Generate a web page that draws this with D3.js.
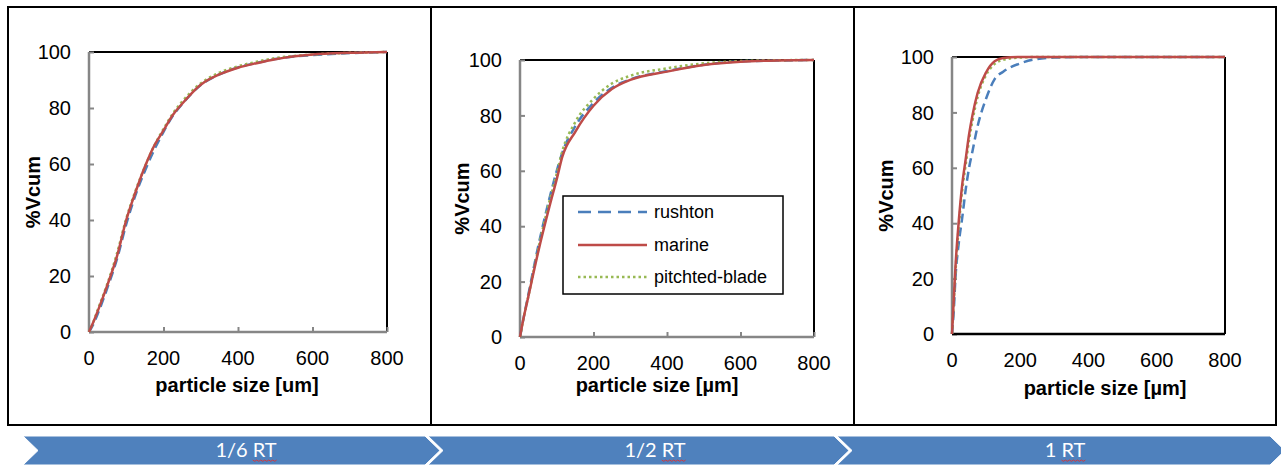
<!DOCTYPE html>
<html>
<head>
<meta charset="utf-8">
<script src="https://cdn.jsdelivr.net/npm/d3@7"></script>
<style>
  html, body { margin: 0; padding: 0; background: #fff; }
  svg { display: block; }
</style>
</head>
<body>
<svg id="chart" width="1281" height="466"></svg>
<script>
// ---------- DATA ----------
const seriesNames = ["rushton", "marine", "pitchted-blade"];
const stageLabels = ["1/6 RT", "1/2 RT", "1 RT"];
const xTitles = ["particle size [um]", "particle size [µm]", "particle size [µm]"];
const yTitle = "%Vcum";
const xTicks = [0, 200, 400, 600, 800];
const yTicks = [0, 20, 40, 60, 80, 100];

// Panel 1 (1/6 RT)
const sizes1    = [0, 10, 25, 50, 75, 100, 125, 150, 175, 200, 225, 250, 300, 350, 400, 450, 500, 600, 700, 800];
const rushton1  = [0, 2.3, 7, 16, 26, 38.5, 49, 57.5, 65, 71.5, 77.2, 81.4, 88.2, 92, 94.5, 96.1, 97.5, 98.9, 99.6, 100];
const marine1   = [0, 3, 8, 17, 27, 40, 50, 59, 66.5, 72, 77.5, 81.5, 88.3, 92, 94.4, 96, 97.4, 99.1, 99.7, 100];
const pitched1  = [0, 3, 8.5, 17.5, 28, 40.5, 50.5, 59, 66.5, 72.5, 78, 82.3, 88.8, 92.6, 94.9, 96.5, 97.8, 99.1, 99.7, 100];

// Panel 2 (1/2 RT)
const sizes2    = [0, 10, 20, 50, 80, 100, 115, 150, 200, 250, 300, 400, 500, 600, 700, 800];
const rushton2  = [0, 7, 13.5, 33, 50, 60, 66.5, 76, 84.5, 90, 93, 96, 98.3, 99.5, 99.8, 100];
const marine2   = [0, 7, 13, 31, 47, 57, 65, 74, 83.5, 89.5, 92.8, 95.8, 98.2, 99.4, 99.8, 100];
const pitched2  = [0, 7, 13, 32, 49, 59, 67, 77.5, 86, 91.5, 94.3, 97, 98.8, 99.6, 99.9, 100];

// Panel 3 (1 RT)
const sizes3    = [0, 5, 10, 20, 30, 40, 50, 60, 75, 100, 125, 150, 200, 250, 300, 400, 600, 800];
const rushton3  = [0, 8, 20, 33, 42, 52, 60, 66, 75, 85, 92, 94.7, 97.7, 99.3, 99.8, 100, 100, 100];
const marine3   = [0, 12, 24, 41, 54, 63, 72, 79, 87, 94.5, 98.5, 99.6, 100, 100, 100, 100, 100, 100];
const pitched3  = [0, 11, 22, 39, 52, 61, 70, 77, 85.5, 93.5, 97.5, 99, 99.8, 100, 100, 100, 100, 100];

// ---------- STYLE ----------
const colors = ["#4A7EBB", "#BE4B48", "#98B954"];
const dashes = ["9,5", null, "2.5,3"];
const legendDashes = ["13,7", null, "2.5,3"];
const axisGray = "#868686";
const FONT = "'Liberation Sans', Arial, sans-serif";

const panels = [
  { sizes: sizes1, series: [rushton1, marine1, pitched1], x0: 89, x1: 387, y0: 332, y1: 52,
    xTitleX: 237, xTitleY: 392, yTitleX: 40, xTicksInside: true, bottomColor: axisGray, legend: false },
  { sizes: sizes2, series: [rushton2, marine2, pitched2], x0: 520, x1: 814, y0: 337, y1: 60,
    xTitleX: 657, xTitleY: 392, yTitleX: 469, xTicksInside: true, bottomColor: axisGray, legend: true },
  { sizes: sizes3, series: [rushton3, marine3, pitched3], x0: 952, x1: 1225, y0: 334, y1: 57,
    xTitleX: 1105, xTitleY: 395, yTitleX: 893, xTicksInside: false, bottomColor: "#000", legend: false }
];

const svg = d3.select("#chart");

// Outer frame and dividers
svg.append("rect").attr("x", 8).attr("y", 7).attr("width", 1268).attr("height", 418)
  .attr("fill", "none").attr("stroke", "#000").attr("stroke-width", 2);
[431, 854].forEach(x => svg.append("line").attr("x1", x).attr("x2", x).attr("y1", 7).attr("y2", 425)
  .attr("stroke", "#000").attr("stroke-width", 2));

panels.forEach((p, pi) => {
  const x = d3.scaleLinear().domain([0, 800]).range([p.x0, p.x1]);
  const y = d3.scaleLinear().domain([0, 100]).range([p.y0, p.y1]);
  const g = svg.append("g");

  // plot area border (top/right black)
  g.append("line").attr("x1", p.x0).attr("x2", p.x1).attr("y1", p.y1).attr("y2", p.y1)
    .attr("stroke", "#000").attr("stroke-width", 2);
  g.append("line").attr("x1", p.x1).attr("x2", p.x1).attr("y1", p.y1).attr("y2", p.y0)
    .attr("stroke", "#000").attr("stroke-width", 2);

  // Y axis (inside ticks)
  const yAxis = g.append("g").attr("transform", `translate(${p.x0},0)`)
    .call(d3.axisRight(y).tickValues(yTicks).tickSize(5).tickFormat(""));
  yAxis.select(".domain").attr("stroke", axisGray).attr("stroke-width", 2.5)
    .attr("d", `M0,${p.y0}V${p.y1}`);
  yAxis.selectAll(".tick line").attr("stroke", axisGray).attr("stroke-width", 2);
  g.selectAll(".ylab").data(yTicks).join("text")
    .attr("x", p.x0 - 18).attr("y", d => y(d)).attr("dy", "0.36em")
    .attr("text-anchor", "end").attr("font-family", FONT).attr("font-size", 20).attr("fill", "#000")
    .text(d => d);

  // X axis
  const xAxis = g.append("g").attr("transform", `translate(0,${p.y0})`)
    .call(d3.axisTop(x).tickValues(xTicks).tickSize(p.xTicksInside ? 5 : 0).tickFormat(""));
  xAxis.select(".domain").attr("stroke", p.bottomColor).attr("stroke-width", 2.5)
    .attr("d", `M${p.x0},0H${p.x1}`);
  xAxis.selectAll(".tick line").attr("stroke", axisGray).attr("stroke-width", 2);
  g.selectAll(".xlab").data(xTicks).join("text")
    .attr("x", d => x(d)).attr("y", p.y0 + 33)
    .attr("text-anchor", "middle").attr("font-family", FONT).attr("font-size", 20).attr("fill", "#000")
    .text(d => d);

  // Axis titles
  g.append("text").attr("x", p.xTitleX).attr("y", p.xTitleY)
    .attr("text-anchor", "middle").attr("font-family", FONT).attr("font-size", 20)
    .attr("font-weight", "bold").attr("fill", "#000").text(xTitles[pi]);
  g.append("text")
    .attr("transform", `translate(${p.yTitleX},${(p.y0 + p.y1) / 2}) rotate(-90)`)
    .attr("text-anchor", "middle").attr("font-family", FONT).attr("font-size", 20)
    .attr("font-weight", "bold").attr("fill", "#000").text(yTitle);

  // Curves
  const line = d3.line().x(d => x(d[0])).y(d => y(d[1])).curve(d3.curveMonotoneX);
  [0, 2, 1].forEach(si => {
    const pts = p.sizes.map((s, i) => [s, p.series[si][i]]);
    g.append("path").datum(pts).attr("d", line)
      .attr("fill", "none").attr("stroke", colors[si]).attr("stroke-width", 2.5)
      .attr("stroke-dasharray", dashes[si]);
  });

  // Legend
  if (p.legend) {
    const lg = g.append("g");
    lg.append("rect").attr("x", 563).attr("y", 196).attr("width", 220).attr("height", 98)
      .attr("fill", "#fff").attr("stroke", "#000").attr("stroke-width", 1.5);
    const ly = [212, 245, 277];
    seriesNames.forEach((n, i) => {
      lg.append("line").attr("x1", 578).attr("x2", 647).attr("y1", ly[i]).attr("y2", ly[i])
        .attr("stroke", colors[i]).attr("stroke-width", 2.5).attr("stroke-dasharray", legendDashes[i]);
      lg.append("text").attr("x", 654).attr("y", ly[i]).attr("dy", "0.35em")
        .attr("font-family", FONT).attr("font-size", 18).attr("fill", "#000").text(n);
    });
  }
});

// ---------- Bottom chevrons ----------
const chevrons = [
  { l: 23, r: 425, tx: 246 },
  { l: 428, r: 834, tx: 655 },
  { l: 837, r: 1270, tx: 1065 }
];
const cTop = 436, cBot = 465, cMid = (cTop + cBot) / 2, depth = 15;
chevrons.forEach((c, i) => {
  const pts = [[c.l, cTop], [c.r, cTop], [c.r + depth, cMid], [c.r, cBot], [c.l, cBot], [c.l + depth, cMid]];
  svg.append("polygon").attr("points", pts.map(q => q.join(",")).join(" "))
    .attr("fill", "#4F81BD").attr("stroke", "#fff").attr("stroke-width", 1);
  const t = svg.append("text").attr("x", c.tx).attr("y", 457)
    .attr("text-anchor", "middle").attr("font-family", "Lato, 'Open Sans', sans-serif")
    .attr("font-size", 20).attr("fill", "#fff").text(stageLabels[i]);
  const node = t.node();
  const str = stageLabels[i];
  const si = str.indexOf("RT");
  if (si >= 0) {
    const sx = node.getStartPositionOfChar(si).x;
    const ex = node.getEndPositionOfChar(str.length - 1).x;
    let d = `M${sx},460`;
    for (let xx = sx, k = 0; xx < ex; xx += 2, k++) d += `L${Math.min(xx + 2, ex)},${k % 2 ? 460 : 461.3}`;
    svg.append("path").attr("d", d).attr("fill", "none").attr("stroke", "#E03030").attr("stroke-width", 0.9);
  }
});
</script>
</body>
</html>
